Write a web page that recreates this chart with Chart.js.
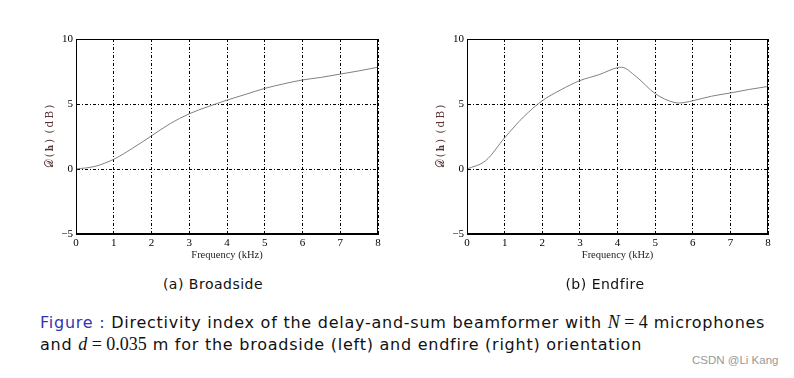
<!DOCTYPE html>
<html>
<head>
<meta charset="utf-8">
<script src="https://cdn.jsdelivr.net/npm/chart.js@4"></script>
<style>
  body { margin: 0; background: #fff; width: 794px; height: 378px; overflow: hidden; position: relative; }
  canvas { position: absolute; top: 0; }
  #left { left: 0; }
  #right { left: 391px; }
  .sub { position: absolute; top: 276px; font-family: "DejaVu Sans", sans-serif; font-size: 14px; letter-spacing: 0.5px; color: #111; transform: translateX(-50%); white-space: nowrap; }
  .cap { position: absolute; left: 40px; font-family: "DejaVu Sans", sans-serif; font-size: 16px; letter-spacing: 0.75px; color: #111; white-space: nowrap; }
  .cap .blue { color: #3434b4; }
  .cap .m { font-family: "Liberation Serif", serif; font-size: 18px; letter-spacing: 0; }
  .wm { position: absolute; left: 692px; top: 354px; font-family: "Liberation Sans", sans-serif; font-size: 11.5px; color: #999; }
</style>
</head>
<body>
<canvas id="left" width="397" height="270"></canvas>
<canvas id="right" width="403" height="270"></canvas>
<div class="sub" style="left:213px">(a) Broadside</div>
<div class="sub" style="left:605px">(b) Endfire</div>
<div class="cap" style="top:312px"><span class="blue">Figure :</span> Directivity index of the delay-and-sum beamformer with <span class="m"><i>N</i> = 4</span> microphones</div>
<div class="cap" style="top:334px">and <span class="m"><i>d</i> = 0.035</span> m for the broadside (left) and endfire (right) orientation</div>
<div class="wm">CSDN @Li Kang</div>
<script>
// 周波数 (kHz) と指向性指数 (dB)
const broadsideFreq = [0, 0.5, 1, 1.5, 2, 2.5, 3, 3.5, 4, 4.5, 5, 5.5, 6, 6.5, 7, 7.5, 8];
const broadsideDI = [0, 0.2, 0.75, 1.6, 2.55, 3.5, 4.25, 4.8, 5.3, 5.75, 6.2, 6.55, 6.85, 7.05, 7.3, 7.55, 7.83];

const endfireFreq = [0, 0.5, 1, 1.5, 2, 2.5, 3, 3.5, 4, 4.1, 4.5, 5, 5.5, 5.65, 6, 6.5, 7, 7.5, 8];
const endfireDI = [0, 0.65, 2.4, 4.0, 5.25, 6.1, 6.8, 7.25, 7.8, 7.83, 7.1, 5.8, 5.12, 5.08, 5.25, 5.6, 5.85, 6.12, 6.35];

const xTicks = [0, 1, 2, 3, 4, 5, 6, 7, 8];
const yTicks = [-5, 0, 5, 10];

const xTitle = 'Frequency (kHz)';
const yTitle = '𝒟\u2009(\u2009𝐡\u2009)\u2002(\u2009d\u2009B\u2009)';

function drawPanel(id, freq, values, rightPad) {
    const ctx = document.getElementById(id);
    const pts = freq.map((f, i) => ({ x: f, y: values[i] }));
    new Chart(ctx, {
        type: 'line',
        data: {
            datasets: [{
                data: pts,
                borderColor: '#808080',
                borderWidth: 1,
                pointRadius: 0,
                cubicInterpolationMode: 'monotone',
                fill: false
            }]
        },
        options: {
            responsive: false,
            animation: false,
            layout: { padding: { top: 39, right: rightPad, bottom: 8, left: 43 } },
            plugins: { legend: { display: false }, tooltip: { enabled: false } },
            scales: {
                x: {
                    type: 'linear',
                    min: 0, max: 8,
                    afterBuildTicks: (s) => { s.ticks = xTicks.map(v => ({ value: v })); },
                    afterFit: (s) => { s.height = 28; },
                    border: { display: true, color: '#000', width: 1, dash: [3, 2, 1, 2] },
                    grid: { color: '#000', lineWidth: 1, drawTicks: false },
                    ticks: { color: '#000', padding: 3, maxRotation: 0, font: { family: 'Liberation Serif', size: 11 } },
                    title: { display: true, text: xTitle, color: '#222', padding: 0, font: { family: 'Liberation Serif', size: 10.5 } }
                },
                y: {
                    min: -5, max: 10,
                    afterBuildTicks: (s) => { s.ticks = yTicks.map(v => ({ value: v })); },
                    afterFit: (s) => { s.width = 33; },
                    border: { display: true, color: '#000', width: 1, dash: [3, 2, 1, 2] },
                    grid: { color: '#000', lineWidth: 1, drawTicks: false },
                    ticks: {
                        color: '#000', padding: 3,
                        font: { family: 'Liberation Serif', size: 11 },
                        callback: (v) => String(v).replace('-', '\u2212')
                    },
                    title: { display: true, text: yTitle, color: '#5a3434', padding: { top: 1, bottom: 0 }, font: { family: 'DejaVu Serif', size: 10.5 } }
                }
            }
        },
        plugins: [{
            // 外枠は実線で描く
            afterDraw: (chart) => {
                const a = chart.chartArea;
                const c = chart.ctx;
                c.save();
                c.strokeStyle = '#000';
                c.lineWidth = 1;
                c.setLineDash([]);
                c.strokeRect(Math.round(a.left) + 0.5, Math.round(a.top) + 0.5, Math.round(a.right - a.left) - 1, Math.round(a.bottom - a.top) - 1);
                c.restore();
            }
        }]
    });
}

drawPanel('left', broadsideFreq, broadsideDI, 19);
drawPanel('right', endfireFreq, endfireDI, 26);
</script>
</body>
</html>
